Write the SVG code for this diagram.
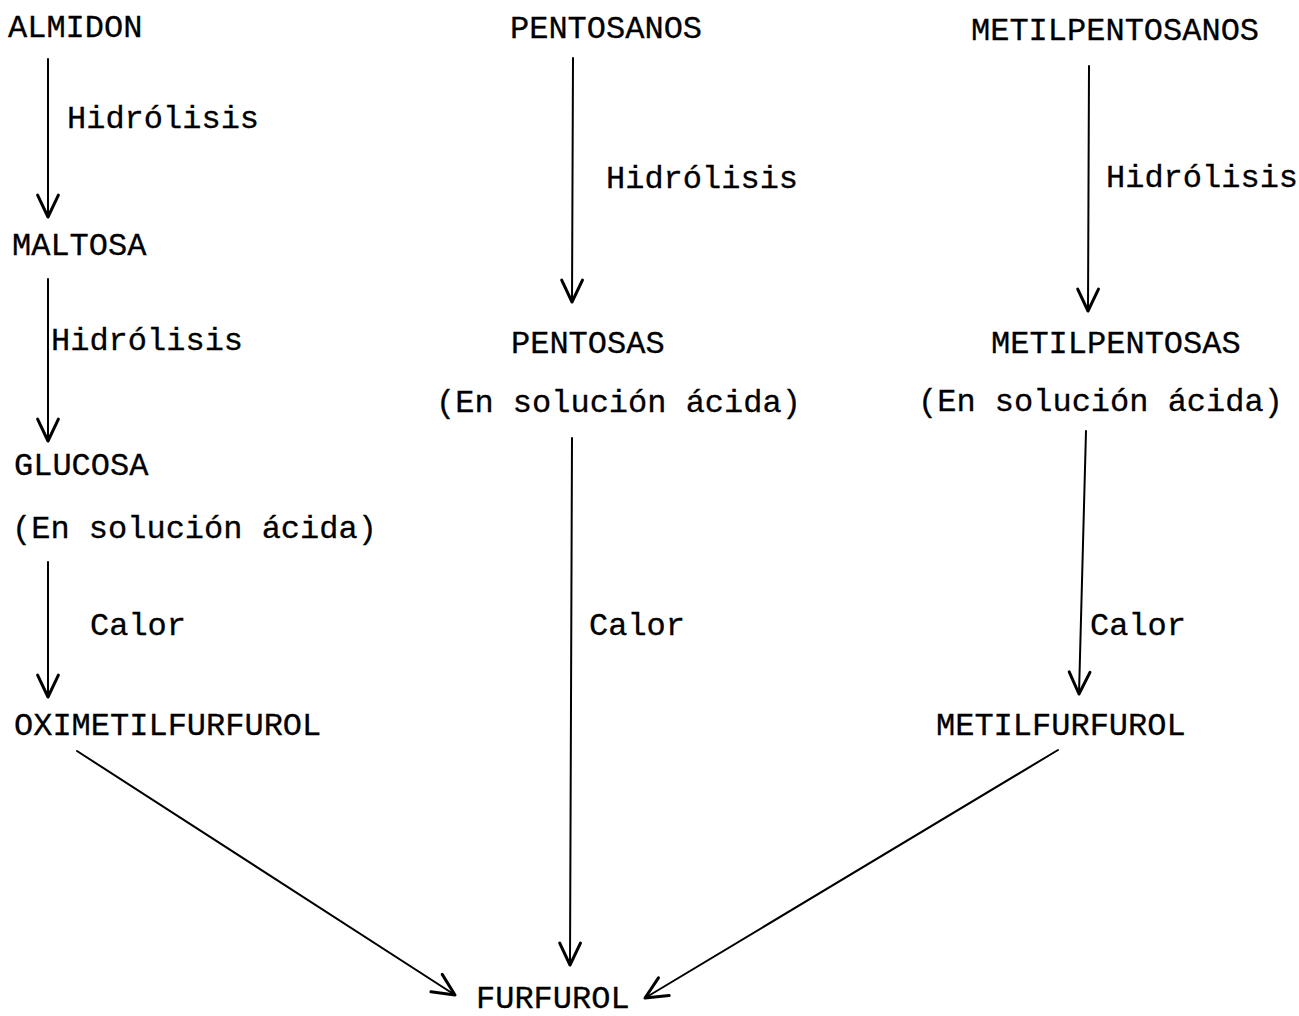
<svg xmlns="http://www.w3.org/2000/svg" width="1299" height="1016" viewBox="0 0 1299 1016">
<style>
text{font-family:"Liberation Mono","Courier New",monospace;font-size:32px;fill:#000;stroke:#000;stroke-width:0.3}
.c{fill:none;stroke:#000;stroke-width:2;stroke-linecap:round}
</style>
<defs>
<marker id="ah" markerUnits="userSpaceOnUse" markerWidth="30" markerHeight="30" refX="0" refY="0" viewBox="-22 -12 26 24" orient="auto" overflow="visible">
<path d="M-19,-9 L0,0 L-19,9" fill="none" stroke="#000" stroke-width="2.6" stroke-linecap="round" stroke-linejoin="round"/>
</marker>
</defs>
<rect width="1299" height="1016" fill="#fff"/>
<g id="connectors">
<line class="c" x1="48" y1="59" x2="48" y2="217" marker-end="url(#ah)"/>
<line class="c" x1="48" y1="279" x2="48" y2="441" marker-end="url(#ah)"/>
<line class="c" x1="48" y1="562" x2="48" y2="697" marker-end="url(#ah)"/>
<line class="c" x1="573" y1="58" x2="572" y2="302" marker-end="url(#ah)"/>
<line class="c" x1="572" y1="438" x2="570" y2="965" marker-end="url(#ah)"/>
<line class="c" x1="1089" y1="66" x2="1088" y2="311" marker-end="url(#ah)"/>
<line class="c" x1="1086" y1="431" x2="1079" y2="694" marker-end="url(#ah)"/>
<line class="c" x1="77" y1="751" x2="455" y2="995" marker-end="url(#ah)"/>
<line class="c" x1="1058" y1="750" x2="645" y2="998" marker-end="url(#ah)"/>
</g>
<g id="almidon"><text x="8" y="37">ALMIDON</text></g>
<g id="hidrolisis1"><text x="67" y="128">Hidrólisis</text></g>
<g id="maltosa"><text x="12" y="255">MALTOSA</text></g>
<g id="hidrolisis2"><text x="51" y="350">Hidrólisis</text></g>
<g id="glucosa"><text x="14" y="475">GLUCOSA</text></g>
<g id="solucion1"><text x="12" y="538">(En solución ácida)</text></g>
<g id="calor1"><text x="90" y="635">Calor</text></g>
<g id="oximetilfurfurol"><text x="14" y="735">OXIMETILFURFUROL</text></g>
<g id="pentosanos"><text x="510" y="38">PENTOSANOS</text></g>
<g id="hidrolisis3"><text x="606" y="188">Hidrólisis</text></g>
<g id="pentosas"><text x="511" y="353">PENTOSAS</text></g>
<g id="solucion2"><text x="436" y="412">(En solución ácida)</text></g>
<g id="calor2"><text x="589" y="635">Calor</text></g>
<g id="furfurol"><text x="476" y="1008">FURFUROL</text></g>
<g id="metilpentosanos"><text x="971" y="40">METILPENTOSANOS</text></g>
<g id="hidrolisis4"><text x="1106" y="187">Hidrólisis</text></g>
<g id="metilpentosas"><text x="991" y="353">METILPENTOSAS</text></g>
<g id="solucion3"><text x="918" y="411">(En solución ácida)</text></g>
<g id="calor3"><text x="1090" y="635">Calor</text></g>
<g id="metilfurfurol"><text x="936" y="735">METILFURFUROL</text></g>
</svg>
